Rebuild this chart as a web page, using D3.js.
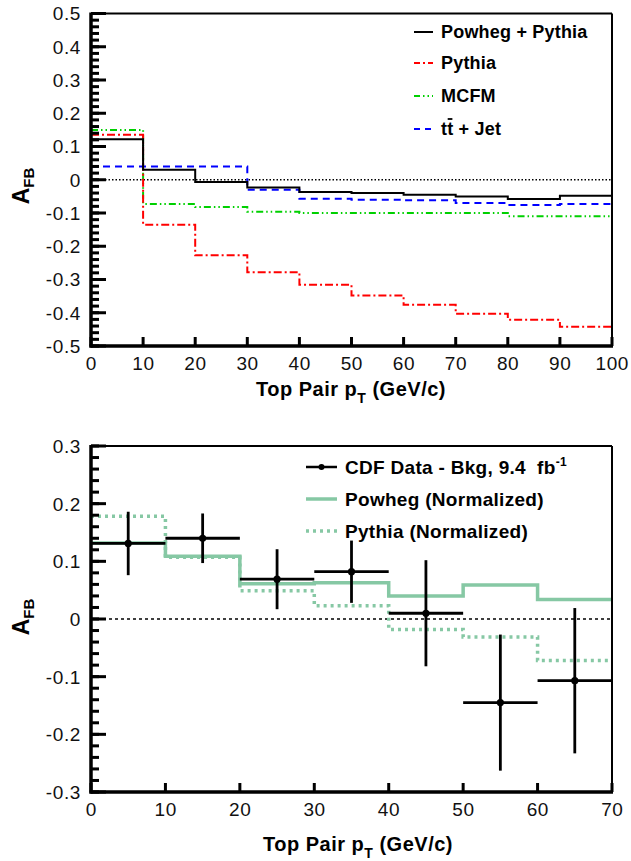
<!DOCTYPE html>
<html>
<head>
<meta charset="utf-8">
<script src="https://cdn.jsdelivr.net/npm/d3@7"></script>
<style>
  html, body { margin: 0; padding: 0; background: #fff; }
  svg text { font-family: "Liberation Sans", Arial, Helvetica, sans-serif; }
</style>
</head>
<body>
<svg id="chart" width="631" height="861"></svg>
<script>
// ---- Top panel: A_FB vs top-pair pT for several generators ----
const topBinEdges = [0, 10, 20, 30, 40, 50, 60, 70, 80, 90, 100];
const powhegPythia = [0.122, 0.030, -0.007, -0.023, -0.037, -0.040, -0.045, -0.050, -0.058, -0.048];
const pythia       = [0.135, -0.135, -0.227, -0.278, -0.316, -0.348, -0.376, -0.403, -0.421, -0.442];
const mcfm         = [0.150, -0.073, -0.082, -0.096, -0.100, -0.100, -0.100, -0.100, -0.110, -0.110];
const ttJet        = [0.040, 0.040, 0.040, -0.030, -0.057, -0.060, -0.062, -0.070, -0.076, -0.073];
const topYTicks = [-0.5, -0.4, -0.3, -0.2, -0.1, 0, 0.1, 0.2, 0.3, 0.4, 0.5];
const topXTicks = [0, 10, 20, 30, 40, 50, 60, 70, 80, 90, 100];

// ---- Bottom panel: CDF data vs normalized predictions ----
const botBinEdges = [0, 10, 20, 30, 40, 50, 60, 70];
const cdfCenters = [5, 15, 25, 35, 45, 55, 65];
const cdfValues  = [0.131, 0.140, 0.069, 0.082, 0.010, -0.145, -0.107];
const cdfErrors  = [0.055, 0.043, 0.052, 0.054, 0.092, 0.118, 0.126];
const powhegNorm = [0.132, 0.109, 0.061, 0.063, 0.040, 0.059, 0.034];
const pythiaNorm = [0.178, 0.107, 0.049, 0.023, -0.018, -0.031, -0.072];
const botYTicks = [-0.3, -0.2, -0.1, 0, 0.1, 0.2, 0.3];
const botXTicks = [0, 10, 20, 30, 40, 50, 60, 70];

const svg = d3.select("#chart");
const GREEN_BAND = "#86c8a4";

function fmtTick(v) {
  if (Math.abs(v) < 1e-9) return "0";
  return String(+v.toFixed(2));
}

// Frame, ticks and labels of one ROOT-style pad
function drawFrame(g, x, y, yTicks, xTicks, yMinorStep) {
  const [x0, x1] = x.range();
  const [yb, yt] = y.range();
  const [dmin, dmax] = y.domain();
  const nMinor = Math.round((dmax - dmin) / yMinorStep);
  const minors = d3.range(nMinor + 1).map(i => dmin + i * yMinorStep);
  g.selectAll(".yminor").data(minors).join("line")
    .attr("x1", x0).attr("x2", x0 + 8)
    .attr("y1", d => y(d)).attr("y2", d => y(d))
    .attr("stroke", "#000").attr("stroke-width", 3);
  g.selectAll(".ymajor").data(yTicks).join("line")
    .attr("x1", x0).attr("x2", x0 + 15)
    .attr("y1", d => y(d)).attr("y2", d => y(d))
    .attr("stroke", "#000").attr("stroke-width", 3);
  g.selectAll(".xmajor").data(xTicks).join("line")
    .attr("x1", d => x(d)).attr("x2", d => x(d))
    .attr("y1", yb).attr("y2", yb - 9)
    .attr("stroke", "#000").attr("stroke-width", 3);
  // frame: thin top/right, heavy left/bottom axes
  g.append("line").attr("x1", x0).attr("x2", x1).attr("y1", yt).attr("y2", yt)
    .attr("stroke", "#000").attr("stroke-width", 2);
  g.append("line").attr("x1", x1).attr("x2", x1).attr("y1", yt).attr("y2", yb)
    .attr("stroke", "#000").attr("stroke-width", 2);
  g.append("line").attr("x1", x0).attr("x2", x0).attr("y1", yt - 1).attr("y2", yb + 1.5)
    .attr("stroke", "#000").attr("stroke-width", 3.5);
  g.append("line").attr("x1", x0 - 1.5).attr("x2", x1 + 1).attr("y1", yb).attr("y2", yb)
    .attr("stroke", "#000").attr("stroke-width", 3.5);
  // tick labels
  g.selectAll(".ylab").data(yTicks).join("text")
    .attr("x", x0 - 10).attr("y", d => y(d))
    .attr("dy", "0.36em").attr("text-anchor", "end")
    .attr("font-size", 19).attr("letter-spacing", 0.6).attr("fill", "#111")
    .text(fmtTick);
  g.selectAll(".xlab").data(xTicks).join("text")
    .attr("x", d => x(d) + 0.3).attr("y", yb + 24)
    .attr("text-anchor", "middle")
    .attr("font-size", 19).attr("letter-spacing", 0.6).attr("fill", "#111")
    .text(fmtTick);
}

function axisTitles(g, cx, baseY, yTitleY) {
  const t = g.append("text")
    .attr("x", cx).attr("y", baseY)
    .attr("text-anchor", "middle")
    .attr("font-size", 20).attr("font-weight", "bold").attr("letter-spacing", 0.5);
  t.append("tspan").text("Top Pair p");
  t.append("tspan").attr("font-size", 14).attr("dy", 7).text("T");
  t.append("tspan").attr("dy", -7).text(" (GeV/c)");

  const a = g.append("text")
    .attr("transform", `translate(29,${yTitleY}) rotate(-90)`)
    .attr("text-anchor", "middle")
    .attr("font-size", 23).attr("font-weight", "bold");
  a.append("tspan").text("A");
  a.append("tspan").attr("font-size", 15).attr("dy", 5).text("FB");
}

function stepPoints(edges, vals) {
  const pts = vals.map((v, i) => [edges[i], v]);
  pts.push([edges[edges.length - 1], vals[vals.length - 1]]);
  return pts;
}

// ================= Top panel =================
{
  const x = d3.scaleLinear().domain([0, 100]).range([91, 612]);
  const y = d3.scaleLinear().domain([-0.5, 0.5]).range([346, 13.5]);
  const g = svg.append("g");

  g.append("line")
    .attr("x1", x(0)).attr("x2", x(100)).attr("y1", y(0)).attr("y2", y(0))
    .attr("stroke", "#000").attr("stroke-width", 1.5).attr("stroke-dasharray", "1.5,2");

  const line = d3.line().x(d => x(d[0])).y(d => y(d[1])).curve(d3.curveStepAfter);
  const series = [
    { vals: mcfm, color: "#00d000", dash: "7,3,1.5,3,1.5,3" },
    { vals: pythia, color: "#ff0000", dash: "8,3,2,3" },
    { vals: ttJet, color: "#0000ff", dash: "7,5" },
    { vals: powhegPythia, color: "#000000", dash: null }
  ];
  series.forEach(s => {
    g.append("path").attr("d", line(stepPoints(topBinEdges, s.vals)))
      .attr("fill", "none").attr("stroke", s.color).attr("stroke-width", 2)
      .attr("stroke-dasharray", s.dash);
  });

  drawFrame(g, x, y, topYTicks, topXTicks, 0.02);
  axisTitles(g, 351, 396, 186);

  // legend
  const legend = [
    { label: "Powheg + Pythia", color: "#000", dash: null, cy: 32 },
    { label: "Pythia", color: "#ff0000", dash: "6,3,2,3", cy: 63 },
    { label: "MCFM", color: "#00d000", dash: "6,3,1.5,3,1.5,3", cy: 96 },
    { label: "tt + Jet", color: "#0000ff", dash: "6,5", cy: 129 }
  ];
  legend.forEach(l => {
    g.append("line").attr("x1", 414).attr("x2", 433).attr("y1", l.cy).attr("y2", l.cy)
      .attr("stroke", l.color).attr("stroke-width", 2).attr("stroke-dasharray", l.dash);
    const t = g.append("text").attr("x", 441).attr("y", l.cy).attr("dy", "0.36em")
      .attr("font-size", 18).attr("letter-spacing", 0.2).attr("font-weight", "bold").text(l.label);
    if (l.label === "tt + Jet") {
      // overbar on the anti-top
      const ext = t.node().getExtentOfChar(1);
      g.append("line")
        .attr("x1", ext.x + 0.5).attr("x2", ext.x + ext.width - 1)
        .attr("y1", l.cy - 10).attr("y2", l.cy - 10)
        .attr("stroke", "#000").attr("stroke-width", 1.8);
    }
  });
}

// ================= Bottom panel =================
{
  const x = d3.scaleLinear().domain([0, 70]).range([91, 612]);
  const y = d3.scaleLinear().domain([-0.3, 0.3]).range([792, 446]);
  const g = svg.append("g");

  g.append("line")
    .attr("x1", x(0)).attr("x2", x(70)).attr("y1", y(0)).attr("y2", y(0))
    .attr("stroke", "#000").attr("stroke-width", 1.5).attr("stroke-dasharray", "3,3");

  const line = d3.line().x(d => x(d[0])).y(d => y(d[1])).curve(d3.curveStepAfter);
  g.append("path").attr("d", line(stepPoints(botBinEdges, pythiaNorm)))
    .attr("fill", "none").attr("stroke", GREEN_BAND).attr("stroke-width", 3.5)
    .attr("stroke-dasharray", "3,4");
  g.append("path").attr("d", line(stepPoints(botBinEdges, powhegNorm)))
    .attr("fill", "none").attr("stroke", GREEN_BAND).attr("stroke-width", 3.5);

  // data points with error bars
  const pts = cdfCenters.map((c, i) => ({ c, v: cdfValues[i], e: cdfErrors[i] }));
  const dg = g.append("g");
  dg.selectAll(".hx").data(pts).join("line")
    .attr("x1", d => x(d.c - 5)).attr("x2", d => x(d.c + 5))
    .attr("y1", d => y(d.v)).attr("y2", d => y(d.v))
    .attr("stroke", "#000").attr("stroke-width", 2.8);
  dg.selectAll(".vy").data(pts).join("line")
    .attr("x1", d => x(d.c)).attr("x2", d => x(d.c))
    .attr("y1", d => y(d.v + d.e)).attr("y2", d => y(d.v - d.e))
    .attr("stroke", "#000").attr("stroke-width", 2.8);
  dg.selectAll("circle").data(pts).join("circle")
    .attr("cx", d => x(d.c)).attr("cy", d => y(d.v)).attr("r", 3.6).attr("fill", "#000");

  drawFrame(g, x, y, botYTicks, botXTicks, 0.02);
  axisTitles(g, 358, 851, 617);

  // legend
  const lx1 = 306, lx2 = 337, tx = 345;
  g.append("line").attr("x1", lx1).attr("x2", lx2).attr("y1", 467).attr("y2", 467)
    .attr("stroke", "#000").attr("stroke-width", 2.5);
  g.append("circle").attr("cx", (lx1 + lx2) / 2).attr("cy", 467).attr("r", 3).attr("fill", "#000");
  const t1 = g.append("text").attr("x", tx).attr("y", 467).attr("dy", "0.36em")
    .attr("font-size", 19).attr("letter-spacing", 0.3).attr("font-weight", "bold");
  t1.append("tspan").text("CDF Data - Bkg, 9.4\u00a0\u00a0fb");
  t1.append("tspan").attr("font-size", 12).attr("dy", -8).text("-1");

  g.append("line").attr("x1", lx1).attr("x2", lx2).attr("y1", 499).attr("y2", 499)
    .attr("stroke", GREEN_BAND).attr("stroke-width", 3.5);
  g.append("text").attr("x", tx).attr("y", 499).attr("dy", "0.36em")
    .attr("font-size", 19).attr("letter-spacing", 0.3).attr("font-weight", "bold").text("Powheg (Normalized)");

  g.append("line").attr("x1", lx1).attr("x2", lx2).attr("y1", 531).attr("y2", 531)
    .attr("stroke", GREEN_BAND).attr("stroke-width", 3.5).attr("stroke-dasharray", "3,4");
  g.append("text").attr("x", tx).attr("y", 531).attr("dy", "0.36em")
    .attr("font-size", 19).attr("letter-spacing", 0.3).attr("font-weight", "bold").text("Pythia (Normalized)");
}
</script>
</body>
</html>
